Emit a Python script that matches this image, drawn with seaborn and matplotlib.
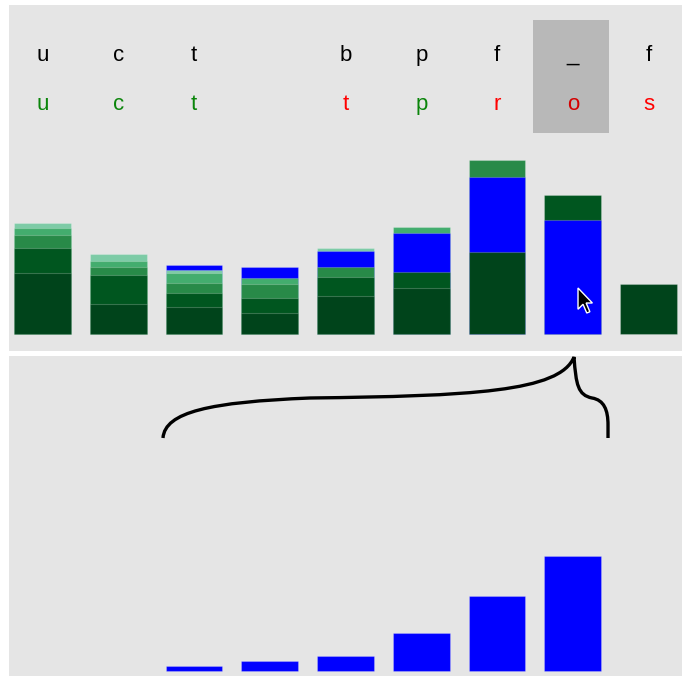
import matplotlib
matplotlib.use("Agg")
import matplotlib.pyplot as plt
import pandas as pd
import seaborn as sns
from matplotlib.path import Path
from matplotlib.patches import PathPatch, Rectangle, Polygon

# ── Data ─────────────────────────────────────────────────────────────────────
BAR_IDS = [str(i) for i in range(9)]
TOP_LETTERS = ["u", "c", "t", "", "b", "p", "f", "_", "f"]
BOTTOM_LETTERS = ["u", "c", "t", "", "t", "p", "r", "o", "s"]
BOTTOM_LETTER_KIND = ["ok", "ok", "ok", "", "bad", "ok", "bad", "bad", "bad"]

# stacked segments per bar, listed bottom -> top
SEG_HEIGHTS = [
    [61, 25, 13, 7, 5],
    [30, 29, 8, 6, 7],
    [27, 14, 10, 10, 3, 5],
    [21, 15, 14, 6, 11],
    [38, 19, 10, 16, 3],
    [46, 16, 39, 6],
    [82, 75, 17],
    [114, 25],
    [50],
]
SEG_KINDS = [
    ["D", "D2", "M", "L", "P"],
    ["D", "D2", "M", "L", "P"],
    ["D", "D2", "M", "L", "P", "B"],
    ["D", "D2", "M", "L", "B"],
    ["D", "D2", "M", "B", "P"],
    ["D", "D2", "B", "L"],
    ["D", "B", "M"],
    ["B", "D2"],
    ["D"],
]
SELECTED_IDS = ["2", "3", "4", "5", "6", "7"]
SELECTED_VALUES = [5, 10, 15, 38, 75, 115]
HIGHLIGHT_POS = 7

# ── Style ────────────────────────────────────────────────────────────────────
PANEL_BG = "#e5e5e5"
BLUE = "#0000ff"
SEG_COLORS = {
    "D": "#00441b",
    "D2": "#00561f",
    "M": "#288a48",
    "L": "#43ad6e",
    "P": "#7dcba6",
    "B": BLUE,
}
LETTER_COLORS = {"ok": "#0a850a", "bad": "#ff0000"}
BAR_W = 0.75
XLIM = (-0.442, 8.442)

sns.set_theme(style="white")
plt.rcParams["font.family"] = ["Liberation Sans", "DejaVu Sans"]


def px_x(px):
    # screen pixel column -> bar position units
    return (px - 42.5) / 75.75


def _clean(ax, ylim):
    ax.set_facecolor(PANEL_BG)
    ax.set_xlim(*XLIM)
    ax.set_ylim(*ylim)
    ax.set_xticks([])
    ax.set_yticks([])
    ax.set_xlabel("")
    ax.set_ylabel("")
    for s in ax.spines.values():
        s.set_visible(False)


def plot_stacks(ax):
    n_levels = max(len(h) for h in SEG_HEIGHTS)
    # draw cumulative tops from the highest level down so lower ones cover
    for level in range(n_levels - 1, -1, -1):
        rows = []
        for bid, heights, kinds in zip(BAR_IDS, SEG_HEIGHTS, SEG_KINDS):
            if level < len(heights):
                rows.append({"bar": bid, "top": sum(heights[:level + 1]),
                             "kind": kinds[level]})
        df = pd.DataFrame(rows)
        pal = {r["bar"]: SEG_COLORS[r["kind"]] for r in rows}
        sns.barplot(data=df, x="bar", y="top", hue="bar", palette=pal,
                    order=BAR_IDS, legend=False, width=BAR_W, errorbar=None,
                    saturation=1, edgecolor=(1, 1, 1, 0.22), linewidth=0.8,
                    ax=ax)

    ax.add_patch(Rectangle((px_x(533), 201), 76 / 75.75, 113,
                           facecolor="#b8b8b8", edgecolor="none", zorder=0.5))
    for i, (a, b, k) in enumerate(zip(TOP_LETTERS, BOTTOM_LETTERS, BOTTOM_LETTER_KIND)):
        if a:
            ax.text(i, 273, a, ha="center", va="baseline", fontsize=16,
                    color="black", zorder=3)
        if b:
            col = LETTER_COLORS[k]
            if i == HIGHLIGHT_POS:
                col = "#d40000"
            ax.text(i, 224, b, ha="center", va="baseline", fontsize=16,
                    color=col, zorder=3)

    # mouse pointer sitting on the hovered bar
    arrow = [(0, 0), (0, 17), (4, 13), (7, 20), (9.5, 19), (6.5, 12), (11.5, 12)]
    tip = (578, 288)
    s = 1.25
    poly = [(px_x(tip[0] + s * dx), 334 - (tip[1] + s * dy)) for dx, dy in arrow]
    ax.add_patch(Polygon(poly, closed=True, facecolor="black",
                         edgecolor="white", linewidth=1.0, zorder=4))
    _clean(ax, (-17, 329))


def plot_selected(ax):
    sns.barplot(x=SELECTED_IDS, y=SELECTED_VALUES, order=BAR_IDS, color=BLUE,
                width=BAR_W, errorbar=None, saturation=1,
                edgecolor=(1, 1, 1, 0.22), linewidth=0.8, ax=ax)

    # curly brace linking the selected bar to its breakdown
    pts = [(163, 438), (165, 412), (210, 402), (310, 398),
           (470, 396), (560, 392), (574, 357),
           (576, 385), (578, 395), (592, 398),
           (604, 400), (608, 410), (608, 425),
           (608, 438)]
    codes = [Path.MOVETO] + [Path.CURVE4] * 12 + [Path.LINETO]
    brace = Path([(px_x(x), 671 - y) for x, y in pts], codes)
    ax.add_patch(PathPatch(brace, facecolor="none", edgecolor="black",
                           linewidth=2.4, capstyle="butt", zorder=3))
    _clean(ax, (-5, 315))


def main():
    fig = plt.figure(figsize=(6.91, 6.79), dpi=100)
    fig.patch.set_facecolor("white")
    ax_top = fig.add_axes([9 / 691, 328 / 679, 673 / 691, 346 / 679])
    ax_bot = fig.add_axes([9 / 691, 3 / 679, 673 / 691, 320 / 679])

    plot_stacks(ax_top)
    plot_selected(ax_bot)

    fig.savefig("out.png", dpi=100, facecolor="white")
    plt.close(fig)


if __name__ == "__main__":
    main()
